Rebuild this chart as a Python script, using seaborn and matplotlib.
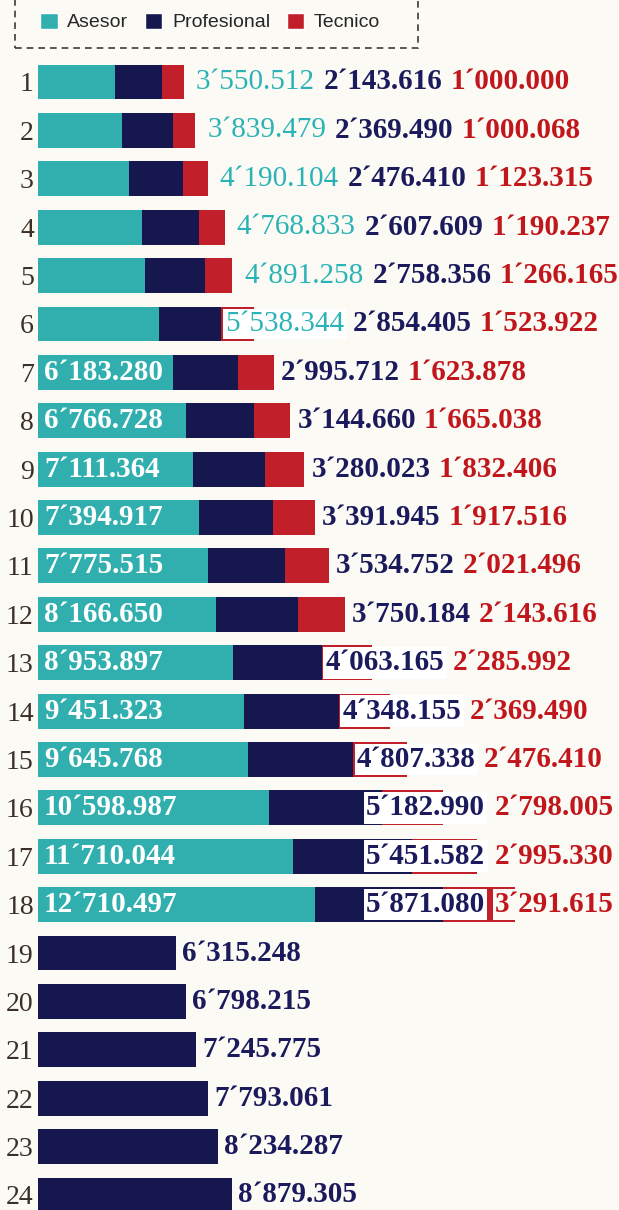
import numpy as np
import pandas as pd
import matplotlib
matplotlib.use("Agg")
import matplotlib.pyplot as plt
from matplotlib.patches import Patch, Rectangle
import seaborn as sns

# datos por fila (1..24)
filas = [str(i) for i in range(1, 25)]
asesor = [3550512, 3839479, 4190104, 4768833, 4891258, 5538344, 6183280, 6766728,
          7111364, 7394917, 7775515, 8166650, 8953897, 9451323, 9645768, 10598987,
          11710044, 12710497, 0, 0, 0, 0, 0, 0]
profesional = [2143616, 2369490, 2476410, 2607609, 2758356, 2854405, 2995712, 3144660,
               3280023, 3391945, 3534752, 3750184, 4063165, 4348155, 4807338, 5182990,
               5451582, 5871080, 6315248, 6798215, 7245775, 7793061, 8234287, 8879305]
tecnico = [1000000, 1000068, 1123315, 1190237, 1266165, 1523922, 1623878, 1665038,
           1832406, 1917516, 2021496, 2143616, 2285992, 2369490, 2476410, 2798005,
           2995330, 3291615, 0, 0, 0, 0, 0, 0]

c_ase = "#31afaf"
c_pro = "#17174f"
c_tec = "#c1202a"
c_ase_txt = "#2ab3b6"
c_pro_txt = "#1a1a5c"
c_tec_txt = "#c0161c"
fondo = "#fbfaf4"

df = pd.DataFrame({"fila": filas, "asesor": asesor, "profesional": profesional, "tecnico": tecnico})
df["a_p"] = df["asesor"] + df["profesional"]
df["total"] = df["a_p"] + df["tecnico"]

def fmt(v):
    return f"{v // 1000000}\u00b4{(v // 1000) % 1000:03d}.{v % 1000:03d}"

sns.set_style("white")
plt.rcParams["font.family"] = ["Liberation Serif", "DejaVu Serif"]

fig = plt.figure(figsize=(6.19, 12.10), dpi=100, facecolor=fondo)
ax = fig.add_axes([38 / 619, 0, 1 - 38 / 619, (1210 - 57.8) / 1210])
ax.set_facecolor(fondo)

# barras apiladas: se dibuja el total y encima los acumulados
kw = dict(y="fila", order=filas, orient="h", width=0.72, saturation=1, ax=ax, linewidth=0)
sns.barplot(data=df, x="total", color=c_tec, **kw)
sns.barplot(data=df, x="a_p", color=c_pro, **kw)
sns.barplot(data=df, x="asesor", color=c_ase, **kw)

ax.set_xlim(0, 581 / 21.8 * 1e6)
ax.set_ylim(23.31, -0.5)
ax.set_xlabel("")
ax.set_ylabel("")
ax.set_xticks([])
sns.despine(ax=ax, left=True, bottom=True)
ax.tick_params(axis="y", length=0, pad=3, labelsize=20, labelcolor="#3a3028")

num_kw = dict(fontsize=21, fontweight="bold", va="center", ha="left",
              family=["Liberation Serif", "DejaVu Serif"])
caja = dict(boxstyle="square,pad=0.08", fc="white", ec="none")
sobre_rojo = [5, 12, 13, 14]       # filas donde la etiqueta tapa el tramo rojo
a_la_derecha = [15, 16, 17]        # filas con etiquetas alineadas al borde derecho

def seguir(prev, texto, color, gap=8, **extra):
    return ax.annotate(texto, xy=(1, 0.5), xycoords=prev, xytext=(gap, 0),
                       textcoords="offset pixels", color=color, **num_kw, **extra)

for i, r in df.iterrows():
    if r["asesor"] == 0:
        ax.annotate(fmt(r["profesional"]), xy=(r["total"], i), xytext=(6, 0),
                    textcoords="offset pixels", color=c_pro_txt, **num_kw)
        continue
    if r["asesor"] >= 6000000:
        ax.annotate(fmt(r["asesor"]), xy=(0, i), xytext=(6, 0),
                    textcoords="offset pixels", color="white", **num_kw)
        if i in a_la_derecha:
            t = ax.annotate(fmt(r["tecnico"]), xy=(1, i), xycoords=("axes fraction", "data"),
                            xytext=(-5, 0), textcoords="offset pixels", color=c_tec_txt,
                            bbox=dict(caja, fc=fondo), **{**num_kw, "ha": "right"})
            ax.annotate(fmt(r["profesional"]), xy=(0, 0.5), xycoords=t, xytext=(-10, 0),
                        textcoords="offset pixels", color=c_pro_txt, bbox=caja,
                        **{**num_kw, "ha": "right"})
            continue
        if i in sobre_rojo:
            t = ax.annotate(fmt(r["profesional"]), xy=(r["a_p"], i), xytext=(4, 0),
                            textcoords="offset pixels", color=c_pro_txt, bbox=caja, **num_kw)
        else:
            t = ax.annotate(fmt(r["profesional"]), xy=(r["total"], i), xytext=(7, 0),
                            textcoords="offset pixels", color=c_pro_txt, **num_kw)
        seguir(t, fmt(r["tecnico"]), c_tec_txt)
    else:
        if i in sobre_rojo:
            t = ax.annotate(fmt(r["asesor"]), xy=(r["a_p"], i), xytext=(4, 0),
                            textcoords="offset pixels", color=c_ase_txt, bbox=caja,
                            **{**num_kw, "fontweight": "normal"})
        else:
            t = ax.annotate(fmt(r["asesor"]), xy=(r["total"], i), xytext=(12, 0),
                            textcoords="offset pixels", color=c_ase_txt,
                            **{**num_kw, "fontweight": "normal"})
        t2 = seguir(t, fmt(r["profesional"]), c_pro_txt, gap=9)
        seguir(t2, fmt(r["tecnico"]), c_tec_txt)

# leyenda con marco discontinuo (el borde superior queda fuera de la figura)
handles = [Patch(facecolor=c_ase, label="Asesor"),
           Patch(facecolor=c_pro, label="Profesional"),
           Patch(facecolor=c_tec, label="Tecnico")]
leg = fig.legend(handles=handles, loc="center left", bbox_to_anchor=(40 / 619, 1 - 22 / 1210),
                 ncol=3, frameon=False, borderpad=0, borderaxespad=0,
                 handlelength=0.9, handleheight=0.9, handletextpad=0.5, columnspacing=0.85,
                 prop={"family": ["Liberation Sans", "DejaVu Sans"], "size": 14})
marco = Rectangle((15 / 619, 1 - 48 / 1210), (418 - 15) / 619, 60 / 1210,
                  transform=fig.transFigure, fill=False, edgecolor="#3a3a3a",
                  linewidth=1.2, linestyle=(0, (4, 3)))
fig.patches.append(marco)

fig.savefig("out.png", dpi=100, facecolor=fondo)
